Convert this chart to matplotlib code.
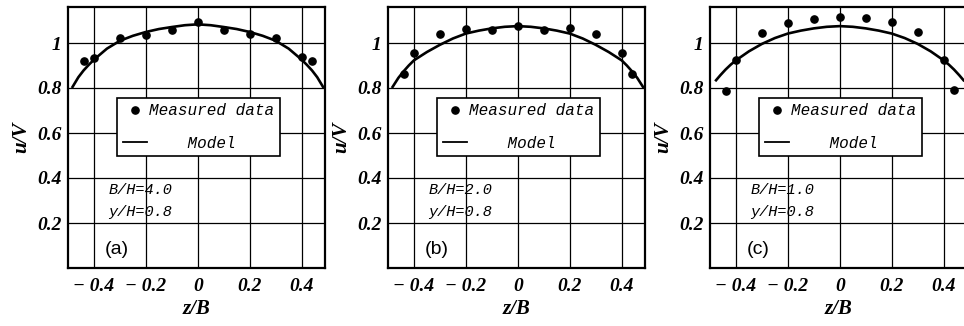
import matplotlib
matplotlib.use("Agg")
import matplotlib.pyplot as plt
from matplotlib.lines import Line2D

# ---------------- data ----------------
z_meas = [-0.44, -0.40, -0.30, -0.20, -0.10, 0.0, 0.10, 0.20, 0.30, 0.40, 0.44]
u_meas_a = [0.919, 0.932, 1.020, 1.035, 1.058, 1.095, 1.059, 1.040, 1.024, 0.937, 0.921]
u_meas_b = [0.864, 0.954, 1.038, 1.062, 1.058, 1.076, 1.059, 1.066, 1.040, 0.956, 0.864]
u_meas_c = [0.788, 0.924, 1.046, 1.090, 1.108, 1.117, 1.111, 1.093, 1.049, 0.926, 0.790]

z_model_ab = [-0.485, -0.46, -0.44, -0.42, -0.40, -0.35, -0.30, -0.25, -0.20, -0.15, -0.10, -0.05, 0.0,
              0.05, 0.10, 0.15, 0.20, 0.25, 0.30, 0.35, 0.40, 0.42, 0.44, 0.46, 0.485]
u_model_a = [0.800, 0.848, 0.878, 0.903, 0.926, 0.975, 1.010, 1.032, 1.049, 1.062, 1.071, 1.079, 1.083,
             1.079, 1.071, 1.062, 1.049, 1.032, 1.010, 0.975, 0.926, 0.903, 0.878, 0.848, 0.800]
u_model_b = [0.800, 0.845, 0.874, 0.900, 0.923, 0.960, 0.992, 1.020, 1.042, 1.055, 1.065, 1.072, 1.075,
             1.072, 1.065, 1.055, 1.042, 1.020, 0.992, 0.960, 0.923, 0.900, 0.874, 0.845, 0.800]
z_model_c = [-0.48, -0.46, -0.44, -0.42, -0.40, -0.35, -0.30, -0.25, -0.20, -0.15, -0.10, -0.05, 0.0,
             0.05, 0.10, 0.15, 0.20, 0.25, 0.30, 0.35, 0.40, 0.42, 0.44, 0.46, 0.48]
u_model_c = [0.830, 0.857, 0.882, 0.904, 0.923, 0.963, 0.996, 1.022, 1.042, 1.055, 1.065, 1.072, 1.075,
             1.072, 1.065, 1.055, 1.042, 1.022, 0.996, 0.963, 0.923, 0.904, 0.882, 0.857, 0.830]

x_ticks = [-0.4, -0.2, 0.0, 0.2, 0.4]
x_ticklabels = ["\u2212 0.4", "\u2212 0.2", "0", "0.2", "0.4"]
y_ticks = [0.2, 0.4, 0.6, 0.8, 1.0]
y_ticklabels = ["0.2", "0.4", "0.6", "0.8", "1"]

panel_labels = ["(a)", "(b)", "(c)"]
bh_texts = ["B/H=4.0", "B/H=2.0", "B/H=1.0"]
yh_text = "y/H=0.8"

panels = [
    (z_meas, u_meas_a, z_model_ab, u_model_a),
    (z_meas, u_meas_b, z_model_ab, u_model_b),
    (z_meas, u_meas_c, z_model_c, u_model_c),
]

# ---------------- figure ----------------
W, H = 964, 326
fig = plt.figure(figsize=(W / 100, H / 100), dpi=100)
fig.patch.set_facecolor("white")

lefts_px = [68, 388, 710]
ax_w_px, ax_top_px, ax_bot_px = 257, 7, 268

serif_bi = dict(family="Liberation Serif", weight="bold", style="italic")
mono_i = dict(family="Liberation Mono", style="italic")

for i, (zm, um, zc, uc) in enumerate(panels):
    ax = fig.add_axes([lefts_px[i] / W, (H - ax_bot_px) / H, ax_w_px / W,
                       (ax_bot_px - ax_top_px) / H])
    ax.set_xlim(-0.5, 0.49)
    ax.set_ylim(0.0, 1.16)
    ax.set_xticks(x_ticks)
    ax.set_xticklabels(x_ticklabels, fontsize=14, **serif_bi)
    ax.set_yticks(y_ticks)
    ax.set_yticklabels(y_ticklabels, fontsize=14, **serif_bi)
    ax.tick_params(axis="x", length=0, pad=7)
    ax.tick_params(axis="y", length=0, pad=4.5)
    ax.grid(True, color="black", linewidth=0.9, zorder=0)
    ax.set_axisbelow(True)
    for sp in ax.spines.values():
        sp.set_linewidth(1.6)
        sp.set_color("black")

    ax.plot(zc, uc, color="black", linewidth=1.9, zorder=3, solid_capstyle="butt")
    ax.plot(zm, um, linestyle="none", marker="o", markersize=5.2,
            color="black", zorder=4, clip_on=False)

    ax.set_xlabel("z/B", fontsize=15, **serif_bi)
    ax.xaxis.set_label_coords(0.5, -0.12)
    ax.set_ylabel("u/V", fontsize=15, **serif_bi)
    ax.yaxis.set_label_coords(-0.145, 0.5)

    handles = [
        Line2D([], [], linestyle="none", marker="o", markersize=5.2, color="black"),
        Line2D([], [], color="black", linewidth=1.3),
    ]
    leg = ax.legend(handles, ["Measured data", "    Model"],
                    loc="upper left", bbox_to_anchor=(-0.31, 0.757),
                    bbox_transform=ax.transData,
                    prop=dict(family="Liberation Mono", style="italic", size=11.5),
                    frameon=True, fancybox=False, framealpha=1.0,
                    edgecolor="black", borderpad=0.35, labelspacing=1.1,
                    handlelength=1.5, handletextpad=0.15, borderaxespad=0.0)
    leg.get_frame().set_linewidth(1.2)
    leg.set_zorder(5)

    ax.text(-0.345, 0.347, bh_texts[i], fontsize=11, va="center", ha="left", **mono_i)
    ax.text(-0.345, 0.249, yh_text, fontsize=11, va="center", ha="left", **mono_i)
    ax.text(-0.36, 0.08, panel_labels[i], fontsize=14, va="center", ha="left",
            family="Liberation Sans")

fig.savefig("out.png", dpi=100, facecolor="white")
